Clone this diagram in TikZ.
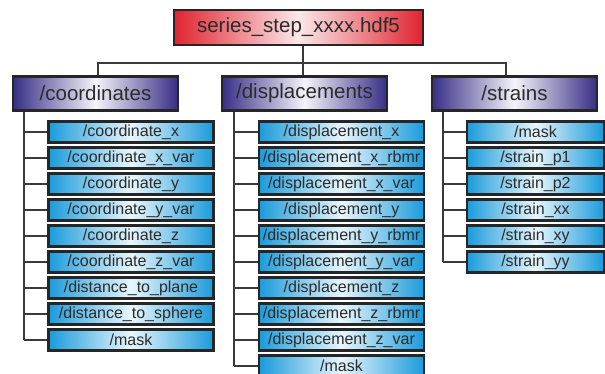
\documentclass[tikz,border=0pt]{standalone}
\usepackage{fontspec}
\setmainfont{Liberation Sans}
\usetikzlibrary{shadows}
\definecolor{rootred}{HTML}{E02430}
\definecolor{rootpale}{HTML}{FBE8EA}
\definecolor{grpblue}{HTML}{362E86}
\definecolor{grppale}{HTML}{F5F4FA}
\definecolor{leafblue}{HTML}{1A9BDB}
\definecolor{leafpale}{HTML}{E8F6FC}
\definecolor{edgecol}{HTML}{262626}
\definecolor{wirecol}{HTML}{3A3A3A}
\definecolor{ink}{HTML}{2B2B2B}

\begin{document}
\begin{tikzpicture}[x=1pt,y=-1pt,
  box/.style={draw=edgecol, line width=2.2pt, inner sep=0pt, text=ink,
    drop shadow={opacity=0.18, shadow xshift=1pt, shadow yshift=-1.5pt}},
  rootbox/.style={box, minimum width=249pt, minimum height=35pt,
    left color=rootred, right color=rootred, middle color=rootpale,
    font=\fontsize{20.5}{24}\selectfont},
  groupbox/.style={box, minimum width=165pt, minimum height=34pt,
    left color=grpblue, right color=grpblue, middle color=grppale,
    font=\fontsize{20.5}{24}\selectfont},
  leafbox/.style={box, minimum width=165pt, minimum height=21pt,
    left color=leafblue, right color=leafblue, middle color=leafpale,
    font=\fontsize{16}{18}\selectfont},
  wire/.style={draw=wirecol, line width=1.8pt}
]
\clip (0,0) rectangle (605,374);

% file and its three groups
\node[rootbox] (file) at (298.5,27.5) {series\_step\_xxxx.hdf5};
\node[groupbox] (coords) at (95.5,93.5) {/coordinates};
\node[groupbox] (disp) at (304.5,93.5) {/displacements};
\node[groupbox] (strains) at (514.5,93.5) {/strains};

% bus from the file to the groups
\coordinate (dstem) at (303,63);
\coordinate (cstem) at (98,63);
\coordinate (sstem) at (506,63);
\draw[wire] (file.south -| dstem) -- (dstem |- disp.north);
\draw[wire] (cstem |- coords.north) -- (cstem) -- (sstem) -- (sstem |- strains.north);

% trunk positions
\coordinate (ctrunk) at (24,111);
\coordinate (dtrunk) at (234,111);
\coordinate (strunk) at (443,111);

% datasets of /coordinates
\foreach \t [count=\i from 0] in {/coordinate\_x,/coordinate\_x\_var,/coordinate\_y,/coordinate\_y\_var,/coordinate\_z,/coordinate\_z\_var,/distance\_to\_plane,/distance\_to\_sphere,/mask}{
  \node[leafbox] (c\i) at (131,132+26*\i) {\t};
  \draw[wire] (c\i.west) -- (c\i.west -| ctrunk);
}
\draw[wire] (coords.south -| ctrunk) -- (c8.west -| ctrunk);

% datasets of /displacements
\foreach \t [count=\i from 0] in {/displacement\_x,/displacement\_x\_rbmr,/displacement\_x\_var,/displacement\_y,/displacement\_y\_rbmr,/displacement\_y\_var,/displacement\_z,/displacement\_z\_rbmr,/displacement\_z\_var,/mask}{
  \node[leafbox] (d\i) at (341.5,132+26*\i) {\t};
  \draw[wire] (d\i.west) -- (d\i.west -| dtrunk);
}
\draw[wire] (disp.south -| dtrunk) -- (d9.west -| dtrunk);

% datasets of /strains
\foreach \t [count=\i from 0] in {/mask,/strain\_p1,/strain\_p2,/strain\_xx,/strain\_xy,/strain\_yy}{
  \node[leafbox, minimum width=137pt] (s\i) at (535.5,132+26*\i) {\t};
  \draw[wire] (s\i.west) -- (s\i.west -| strunk);
}
\draw[wire] (strains.south -| strunk) -- (s5.west -| strunk);
\end{tikzpicture}
\end{document}
